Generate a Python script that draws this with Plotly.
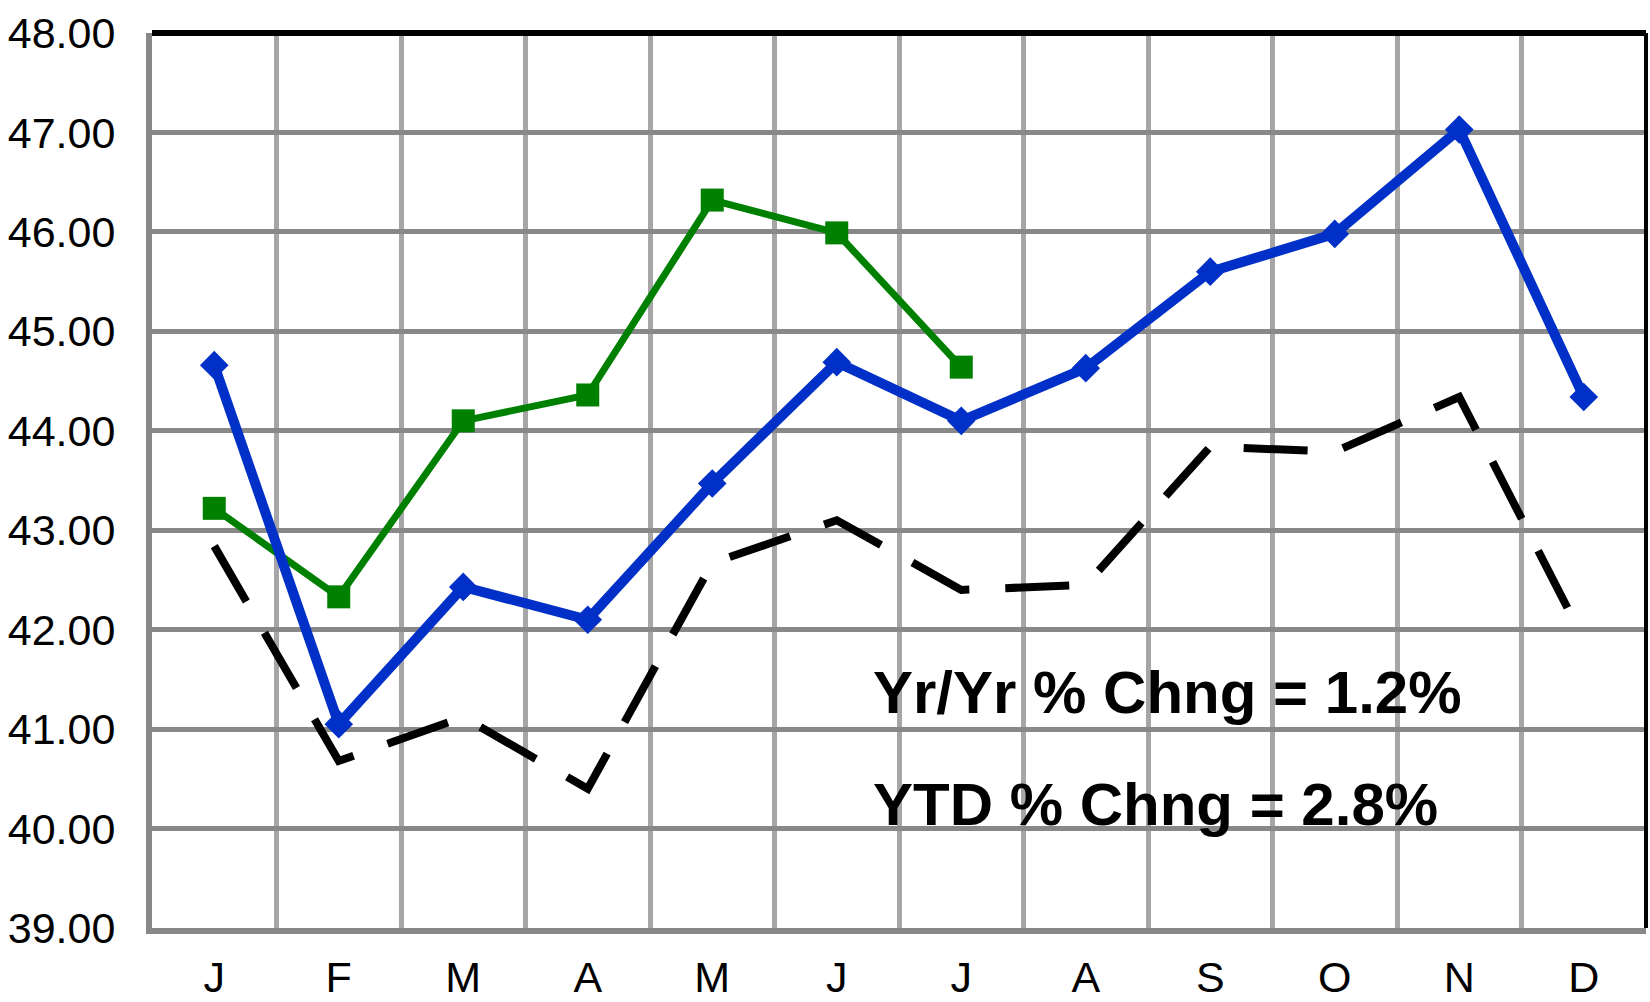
import plotly.graph_objects as go

months = ["J", "F", "M", "A", "M", "J", "J", "A", "S", "O", "N", "D"]
x_idx = list(range(12))

prior_year = [44.66, 41.05, 42.43, 42.10, 43.47, 44.69, 44.10, 44.63, 45.60, 45.98, 47.03, 44.34]
current_year = [43.22, 42.33, 44.10, 44.36, 46.32, 45.99, 44.64]
two_years_ago = [42.84, 40.68, 41.12, 40.40, 42.67, 43.10, 42.40, 42.45, 43.84, 43.79, 44.34, 41.90]

y_ticks = [39, 40, 41, 42, 43, 44, 45, 46, 47, 48]
notes = ["Yr/Yr % Chng = 1.2%", "YTD % Chng = 2.8%"]
note_y = [41.37, 40.24]

FONT = "Liberation Sans Narrow, Arial Narrow, Liberation Sans, Arial, sans-serif"

fig = go.Figure()

fig.add_trace(go.Scatter(
    x=x_idx, y=two_years_ago, mode="lines",
    line=dict(color="black", width=8, dash="64px,36px"),
    showlegend=False, hoverinfo="skip",
))
fig.add_trace(go.Scatter(
    x=x_idx[:len(current_year)], y=current_year, mode="lines+markers",
    line=dict(color="#008000", width=7),
    marker=dict(symbol="square", size=23, color="#008000", line=dict(width=0)),
    showlegend=False,
))
fig.add_trace(go.Scatter(
    x=x_idx, y=prior_year, mode="lines+markers",
    line=dict(color="#0030c8", width=10),
    marker=dict(symbol="diamond", size=22, color="#0030c8", line=dict(width=0)),
    showlegend=False,
))

for txt, yv in zip(notes, note_y):
    fig.add_annotation(
        x=0.481, xref="paper", y=yv, yref="y",
        text="<b>" + txt + "</b>", showarrow=False,
        xanchor="left", yanchor="middle",
        font=dict(family=FONT, size=60, color="black"),
    )

fig.update_layout(
    width=1650, height=1002,
    margin=dict(l=152, r=4, t=33, b=74, autoexpand=False),
    paper_bgcolor="white", plot_bgcolor="white",
    font=dict(family=FONT, size=43, color="black"),
    xaxis=dict(
        range=[-0.5, 11.5], tickmode="array", tickvals=x_idx, ticktext=months,
        showgrid=False, zeroline=False, ticks="", automargin=False,
        ticklabelstandoff=6,
        showline=True, linecolor="#888888", linewidth=6,
        minor=dict(tickmode="array", tickvals=[i + 0.5 for i in x_idx[:-1]],
                   showgrid=True, gridcolor="#a6a6a6", gridwidth=5, ticks=""),
        tickfont=dict(family=FONT, size=43, color="black"),
    ),
    yaxis=dict(
        range=[39, 48], tickmode="array", tickvals=y_ticks,
        tickformat=".2f", showgrid=True, gridcolor="#888888", gridwidth=5,
        zeroline=False, ticks="", ticklabelstandoff=22, automargin=False,
        showline=True, linecolor="#888888", linewidth=6,
        tickfont=dict(family=FONT, size=43, color="black"),
    ),
    shapes=[
        dict(type="line", xref="paper", yref="paper", x0=0, x1=1, y0=1, y1=1,
             line=dict(color="black", width=6), layer="above"),
        dict(type="line", xref="paper", yref="paper", x0=1, x1=1, y0=0, y1=1,
             line=dict(color="black", width=4), layer="above"),
    ],
)

fig.write_html(
    "out.html",
    config={"displayModeBar": False},
    post_script="document.body.style.margin='0';document.body.style.overflow='hidden';",
)
